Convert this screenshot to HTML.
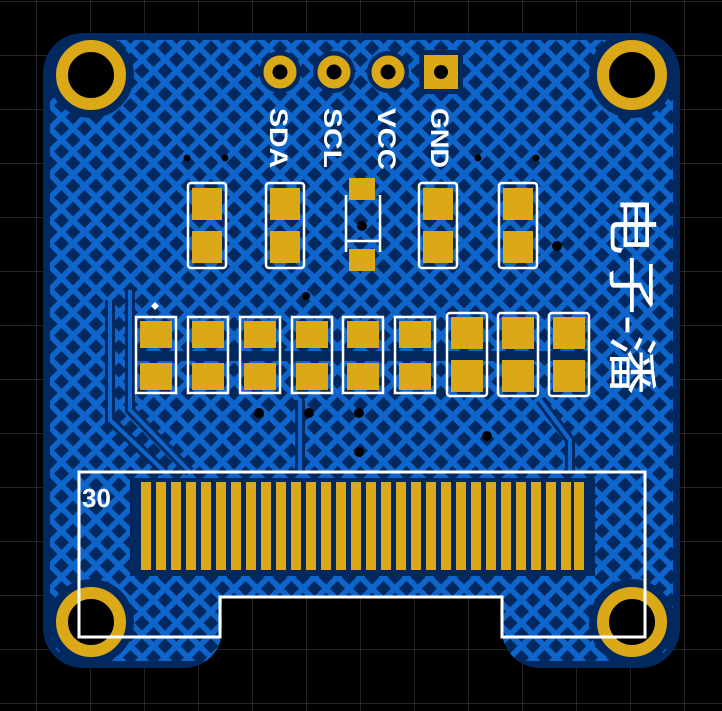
<!DOCTYPE html>
<html><head><meta charset="utf-8"><style>
html,body{margin:0;padding:0;background:#000;width:722px;height:711px;overflow:hidden}
svg{display:block}
</style></head><body>
<svg width="722" height="711" viewBox="0 0 722 711" xmlns="http://www.w3.org/2000/svg">
<defs>
<pattern id="grid" x="36" y="1" width="54" height="54" patternUnits="userSpaceOnUse">
<path d="M0 0V54M0 0H54" stroke="#3a3a3a" stroke-width="1.2" fill="none"/>
</pattern>
<pattern id="hatch" x="4" y="2" width="23" height="23" patternUnits="userSpaceOnUse">
<rect width="23" height="23" fill="#0e66cc"/>
<polygon points="11.5,4 19,11.5 11.5,19 4,11.5" fill="#02295f"/>
<polygon points="0,-7.5 7.5,0 0,7.5 -7.5,0" fill="#02295f"/>
<polygon points="23,-7.5 30.5,0 23,7.5 15.5,0" fill="#02295f"/>
<polygon points="0,15.5 7.5,23 0,30.5 -7.5,23" fill="#02295f"/>
<polygon points="23,15.5 30.5,23 23,30.5 15.5,23" fill="#02295f"/>
</pattern>
<clipPath id="bd">
<path d="M83 33H640A40 40 0 0 1 680 73V628A40 40 0 0 1 640 668H540A38 38 0 0 1 502 630V598H222V630A38 38 0 0 1 184 668H83A40 40 0 0 1 43 628V73A40 40 0 0 1 83 33Z"/>
</clipPath>
</defs>
<rect width="722" height="711" fill="#000"/>
<rect width="722" height="711" fill="url(#grid)"/>
<g clip-path="url(#bd)">
<rect x="0" y="0" width="722" height="711" fill="#02295f"/>
<rect x="50" y="40" width="623" height="621" rx="30" fill="url(#hatch)"/>
<g stroke="#02295f" stroke-width="10" fill="none">
<path d="M110 300V420L165 472"/>
<path d="M130 290V410L190 472"/>
<path d="M300 400V472"/>
<path d="M540 400L570 440V472"/>
</g>
<g stroke="#0e66cc" stroke-width="4" fill="none">
<path d="M110 300V420L165 472"/>
<path d="M130 290V410L190 472"/>
<path d="M300 400V472"/>
<path d="M540 400L570 440V472"/>
</g>
<rect x="130" y="478" width="465" height="98" fill="#02295f"/>
<g fill="#02295f">
<circle cx="91" cy="75" r="43"/><circle cx="632" cy="75" r="43"/>
<circle cx="91" cy="622" r="43"/><circle cx="632" cy="622" r="43"/>
</g>
</g>
<g fill="#000" stroke="#dba918" stroke-width="12">
<circle cx="91" cy="75" r="29"/><circle cx="632" cy="75" r="29"/>
<circle cx="91" cy="622" r="29"/><circle cx="632" cy="622" r="29"/>
</g>
<g fill="#02295f">
<circle cx="280" cy="72" r="21"/><circle cx="334" cy="72" r="21"/><circle cx="388" cy="72" r="21"/>
<rect x="419" y="50" width="44" height="44"/>
</g>
<g fill="#000" stroke="#dba918" stroke-width="9">
<circle cx="280" cy="72" r="12"/><circle cx="334" cy="72" r="12"/><circle cx="388" cy="72" r="12"/>
</g>
<rect x="424" y="55" width="34" height="34" fill="#dba918"/>
<circle cx="441" cy="72" r="7" fill="#000"/>
<g font-family="Liberation Sans, sans-serif" font-weight="bold" font-size="25" fill="#fff">
<text transform="translate(270,108) rotate(90)" textLength="60" lengthAdjust="spacingAndGlyphs">SDA</text>
<text transform="translate(324,108) rotate(90)" textLength="60" lengthAdjust="spacingAndGlyphs">SCL</text>
<text transform="translate(378,108) rotate(90)" textLength="62" lengthAdjust="spacingAndGlyphs">VCC</text>
<text transform="translate(431,108) rotate(90)" textLength="60" lengthAdjust="spacingAndGlyphs">GND</text>
</g>
<g fill="#000">
<circle cx="187" cy="158" r="3.5"/><circle cx="225" cy="158" r="3.5"/>
<circle cx="478" cy="158" r="3.5"/><circle cx="536" cy="158" r="3.5"/>
<circle cx="362" cy="226" r="5"/><circle cx="557" cy="246" r="5"/>
<circle cx="259" cy="413" r="5"/><circle cx="309" cy="413" r="5"/>
<circle cx="359" cy="413" r="5"/><circle cx="359" cy="452" r="5"/>
<circle cx="306" cy="296" r="4"/><circle cx="487" cy="436" r="5"/>
</g>
<g fill="none" stroke="#fff" stroke-width="2.5">
<rect x="188" y="183" width="38" height="85" rx="3"/>
<rect x="266" y="183" width="38" height="85" rx="3"/>
<rect x="419" y="183" width="38" height="85" rx="3"/>
<rect x="499" y="183" width="38" height="85" rx="3"/>
<path d="M346 195V252M380 195V252M346 241H380"/>
</g>
<g fill="#dba918">
<rect x="192" y="188" width="30" height="32"/><rect x="192" y="231" width="30" height="32"/>
<rect x="270" y="188" width="30" height="32"/><rect x="270" y="231" width="30" height="32"/>
<rect x="423" y="188" width="30" height="32"/><rect x="423" y="231" width="30" height="32"/>
<rect x="503" y="188" width="30" height="32"/><rect x="503" y="231" width="30" height="32"/>
<rect x="349" y="178" width="26" height="22"/><rect x="349" y="249" width="26" height="22"/>
</g>
<rect x="135" y="351" width="455" height="10" fill="#02295f"/>
<g fill="none" stroke="#fff" stroke-width="2.5">
<rect x="136" y="317" width="40" height="76"/>
<rect x="188" y="317" width="40" height="76"/>
<rect x="240" y="317" width="40" height="76"/>
<rect x="292" y="317" width="40" height="76"/>
<rect x="343" y="317" width="40" height="76"/>
<rect x="395" y="317" width="40" height="76"/>
<rect x="447" y="313" width="40" height="83" rx="3"/>
<rect x="498" y="313" width="40" height="83" rx="3"/>
<rect x="549" y="313" width="40" height="83" rx="3"/>
</g>
<g fill="#dba918">
<rect x="140" y="321" width="32" height="27"/><rect x="140" y="363" width="32" height="27"/>
<rect x="192" y="321" width="32" height="27"/><rect x="192" y="363" width="32" height="27"/>
<rect x="244" y="321" width="32" height="27"/><rect x="244" y="363" width="32" height="27"/>
<rect x="296" y="321" width="32" height="27"/><rect x="296" y="363" width="32" height="27"/>
<rect x="347" y="321" width="32" height="27"/><rect x="347" y="363" width="32" height="27"/>
<rect x="399" y="321" width="32" height="27"/><rect x="399" y="363" width="32" height="27"/>
<rect x="451" y="317" width="32" height="32"/><rect x="451" y="360" width="32" height="32"/>
<rect x="502" y="317" width="32" height="32"/><rect x="502" y="360" width="32" height="32"/>
<rect x="553" y="317" width="32" height="32"/><rect x="553" y="360" width="32" height="32"/>
</g>
<polygon points="155,302 159,306 155,310 151,306" fill="#fff"/>
<text transform="translate(614,195) rotate(90)" font-family="Liberation Sans, 'Noto Sans CJK SC', sans-serif" font-size="50" fill="#fff" textLength="200" lengthAdjust="spacingAndGlyphs">电子-潘</text>
<path d="M79 472H645V637H502V597H220V637H79Z" fill="none" stroke="#fff" stroke-width="3"/>
<text x="82" y="507" font-family="Liberation Sans, sans-serif" font-weight="bold" font-size="26" fill="#fff">30</text>
<g fill="#dba918">
<rect x="141" y="482" width="10" height="88"/><rect x="156" y="482" width="10" height="88"/>
<rect x="171" y="482" width="10" height="88"/><rect x="186" y="482" width="10" height="88"/>
<rect x="201" y="482" width="10" height="88"/><rect x="216" y="482" width="10" height="88"/>
<rect x="231" y="482" width="10" height="88"/><rect x="246" y="482" width="10" height="88"/>
<rect x="261" y="482" width="10" height="88"/><rect x="276" y="482" width="10" height="88"/>
<rect x="291" y="482" width="10" height="88"/><rect x="306" y="482" width="10" height="88"/>
<rect x="321" y="482" width="10" height="88"/><rect x="336" y="482" width="10" height="88"/>
<rect x="351" y="482" width="10" height="88"/><rect x="366" y="482" width="10" height="88"/>
<rect x="381" y="482" width="10" height="88"/><rect x="396" y="482" width="10" height="88"/>
<rect x="411" y="482" width="10" height="88"/><rect x="426" y="482" width="10" height="88"/>
<rect x="441" y="482" width="10" height="88"/><rect x="456" y="482" width="10" height="88"/>
<rect x="471" y="482" width="10" height="88"/><rect x="486" y="482" width="10" height="88"/>
<rect x="501" y="482" width="10" height="88"/><rect x="516" y="482" width="10" height="88"/>
<rect x="531" y="482" width="10" height="88"/><rect x="546" y="482" width="10" height="88"/>
<rect x="561" y="482" width="10" height="88"/><rect x="574" y="482" width="10" height="88"/>
</g>
</svg>
</body></html>
